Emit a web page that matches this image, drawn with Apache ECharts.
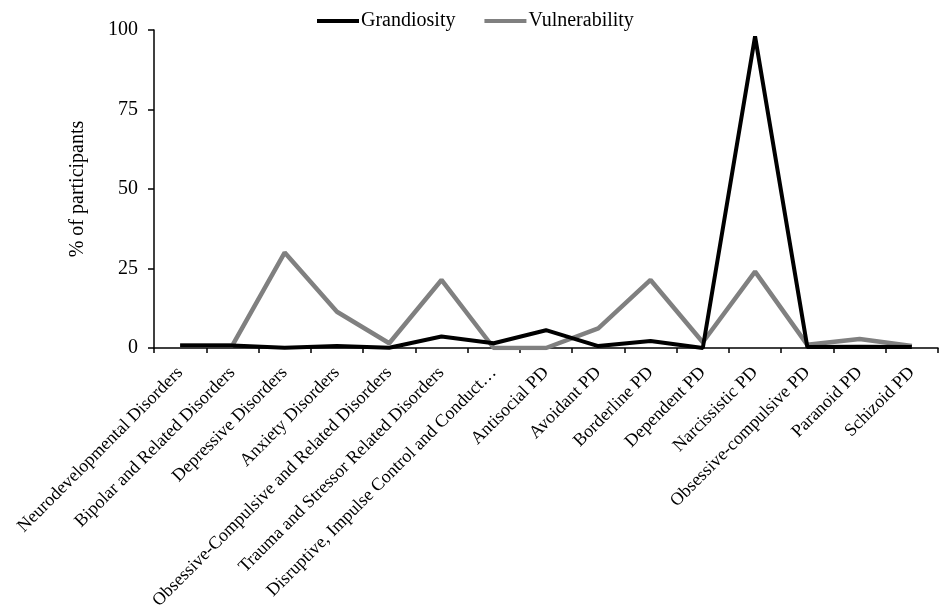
<!DOCTYPE html>
<html><head><meta charset="utf-8">
<script src="https://cdn.jsdelivr.net/npm/echarts@6/dist/echarts.min.js"></script>
<style>html,body{margin:0;padding:0;background:#fff}#c{width:940px;height:613px}</style>
</head><body><div id="c"></div>
<script>
const categories = ["Neurodevelopmental Disorders","Bipolar and Related Disorders","Depressive Disorders","Anxiety Disorders","Obsessive-Compulsive and Related Disorders","Trauma and Stressor Related Disorders","Disruptive, Impulse Control and Conduct…","Antisocial PD","Avoidant PD","Borderline PD","Dependent PD","Narcissistic PD","Obsessive-compulsive PD","Paranoid PD","Schizoid PD"];
const grandiosity = [0.8,0.8,0.1,0.6,0.1,3.6,1.5,5.6,0.6,2.2,0,98,0.3,0.4,0.3];
const vulnerability = [0.8,0.8,30,11.4,1.5,21.4,0,0,6.2,21.4,1.8,24,1,2.8,0.6];
const yTicks = [0,25,50,75,100];
const font = "'Liberation Serif','Times New Roman',serif";
const chart = echarts.init(document.getElementById('c'));
chart.setOption({
  animation:false,
  textStyle:{fontFamily:font,color:'#000'},
  legend:{top:11,left:317,padding:0,itemWidth:42,itemHeight:4,itemGap:29,icon:'rect',
    textStyle:{fontFamily:font,fontSize:20,color:'#000',padding:[0,0,0,-3]},
    data:['Grandiosity','Vulnerability']},
  grid:{left:154,top:30,right:2,bottom:265,containLabel:false},
  xAxis:{type:'category',data:categories,boundaryGap:true,
    axisLine:{lineStyle:{color:'#000',width:1.5}},
    axisTick:{show:true,length:5,inside:false,lineStyle:{color:'#000',width:1.5}},
    axisLabel:{rotate:45,interval:0,fontFamily:font,fontSize:18,color:'#000',margin:22}},
  yAxis:{type:'value',min:0,max:100,interval:25,
    name:'% of participants',nameLocation:'middle',nameGap:66,nameRotate:90,
    nameTextStyle:{fontFamily:font,fontSize:20,color:'#000'},
    axisLine:{show:true,lineStyle:{color:'#000',width:1.5}},
    axisTick:{show:true,length:6,lineStyle:{color:'#000',width:1.5}},
    splitLine:{show:false},
    axisLabel:{fontFamily:font,fontSize:20,color:'#000',margin:16,
      formatter:v=>yTicks.includes(v)?String(v):''}},
  series:[
    {name:'Grandiosity',type:'line',data:grandiosity,showSymbol:false,symbol:'none',
     lineStyle:{color:'#000',width:4},itemStyle:{color:'#000'},z:3},
    {name:'Vulnerability',type:'line',data:vulnerability,showSymbol:false,symbol:'none',
     lineStyle:{color:'#808080',width:4.5},itemStyle:{color:'#808080'},z:2}
  ]
});
</script></body></html>
